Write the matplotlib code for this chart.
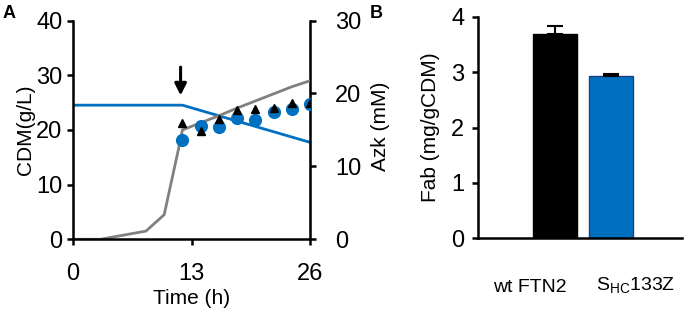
import matplotlib.pyplot as plt
from matplotlib.transforms import blended_transform_factory

plt.rcParams['font.family'] = ['Liberation Sans', 'DejaVu Sans']

# panel A data
cdm_t = [0, 3, 8, 10, 11.7, 12, 14, 16, 18, 20, 22, 24, 26]
cdm = [0, 0, 1.5, 4.5, 17.5, 20, 21.3, 22.6, 24, 25.3, 26.6, 27.9, 29]
azk_t = [0, 12, 26]
azk = [18.4, 18.4, 13.3]
meas_t = [12, 14, 16, 18, 20, 22, 24, 26]
dots = [18.2, 20.7, 20.5, 22.1, 21.8, 23.3, 23.8, 24.7]
tris = [21.3, 19.8, 22.0, 23.6, 23.9, 24.1, 25.0, 25.0]
induction_t = 12

# panel B data
strains = ['wt FTN2', 'S$_{\\mathregular{HC}}$133Z']
fab = [3.69, 2.94]
fab_err = [0.14, 0.02]

BLUE = '#0070c0'
TICK = 17
LAB = 15

fig = plt.figure(figsize=(6.85, 3.12), dpi=100)

ax = fig.add_axes([0.1066, 0.233, 0.346, 0.701])
ax.plot(cdm_t, cdm, color='#808080', lw=2, zorder=2)
ax.plot(meas_t, dots, 'o', color=BLUE, ms=9.5, mec='none', zorder=3)
ax.plot(meas_t, tris, '^', color='black', ms=5.5, zorder=4)
ax.annotate('', xy=(induction_t - 0.2, 25.8), xytext=(induction_t - 0.2, 32),
            arrowprops=dict(arrowstyle='-|>,head_width=0.35,head_length=0.7',
                            color='black', lw=2.2))
ax.set_xlim(0, 26)
ax.set_ylim(0, 40)
ax.set_xticks([0, 13, 26])
ax.set_yticks([0, 10, 20, 30, 40])
ax.set_xlabel('Time (h)', fontsize=LAB, labelpad=3)
ax.set_ylabel('CDM(g/L)', fontsize=LAB, labelpad=1)
ax.spines['top'].set_visible(False)
for s in ['left', 'bottom']:
    ax.spines[s].set_linewidth(1.8)
ax.tick_params(labelsize=TICK, width=1.8, length=4, direction='out')
ax.tick_params(axis='x', pad=13)

ax2 = ax.twinx()
ax2.plot(azk_t, azk, color=BLUE, lw=2, zorder=1)
ax2.set_ylim(0, 30)
ax2.set_yticks([0, 10, 20, 30])
ax2.spines['top'].set_visible(False)
ax2.spines['right'].set_linewidth(1.8)
ax2.spines['left'].set_visible(False)
ax2.spines['bottom'].set_visible(False)
ax2.tick_params(labelsize=TICK, width=1.8, length=4, direction='out', pad=14)
ax.set_zorder(ax2.get_zorder() + 1)
ax.patch.set_visible(False)
fig.text(0.556, 0.595, 'Azk (mM)', rotation=90, fontsize=LAB,
         ha='center', va='center')

fig.text(0.004, 0.985, 'A', fontsize=13, fontweight='bold', va='top')
fig.text(0.540, 0.985, 'B', fontsize=13, fontweight='bold', va='top')

bx = fig.add_axes([0.698, 0.236, 0.298, 0.71])
xs = list(range(len(strains)))
bx.bar(xs, fab, width=0.79, color=['black', BLUE],
       edgecolor=['black', '#1f3f7f'], lw=1)
bx.errorbar(xs, fab, yerr=[[0] * len(fab), fab_err], fmt='none',
            ecolor='black', elinewidth=1.5, capsize=6, capthick=1.5)
bx.set_xlim(-1.38, 2.27)
bx.set_ylim(0, 4)
bx.set_yticks([0, 1, 2, 3, 4])
bx.set_xticks([])
bx.set_ylabel('Fab (mg/gCDM)', fontsize=LAB, labelpad=8)
for s in ['top', 'right']:
    bx.spines[s].set_visible(False)
for s in ['left', 'bottom']:
    bx.spines[s].set_linewidth(1.8)
bx.tick_params(labelsize=TICK, width=1.8, length=4, direction='out', pad=6)
trans = blended_transform_factory(bx.transData, fig.transFigure)
offsets = [-0.45, 0.43]
for i, name in enumerate(strains):
    bx.text(i + offsets[i], 0.05, name, transform=trans, fontsize=14,
            ha='center', va='bottom')

fig.savefig('out.png', dpi=100)
